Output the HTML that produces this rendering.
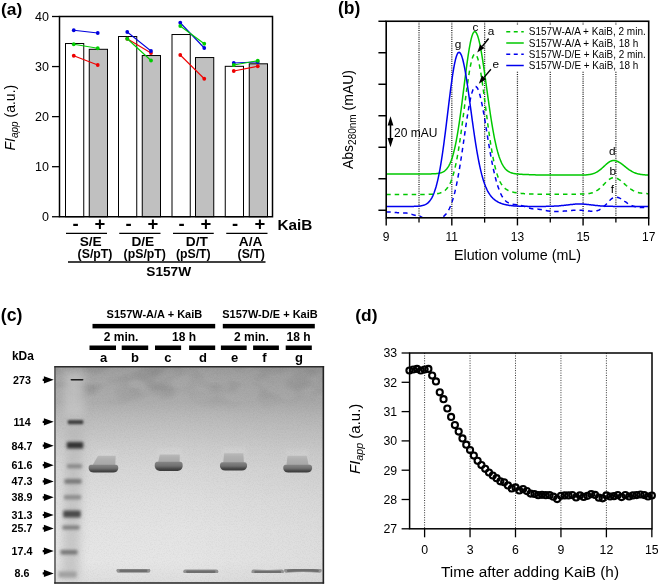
<!DOCTYPE html>
<html><head><meta charset="utf-8"><title>Figure</title>
<style>html,body{margin:0;padding:0;background:#fff}svg{display:block;opacity:0.999}text{font-family:"Liberation Sans",sans-serif;fill:#000}</style>
</head><body>
<svg width="660" height="585" viewBox="0 0 660 585">
<rect width="660" height="585" fill="#fff"/>
<g id="pa">
<rect x="65.50" y="43.53" width="18.25" height="173.22" fill="#fff" stroke="#000" stroke-width="1"/>
<rect x="89.25" y="49.29" width="18.25" height="167.46" fill="#c0c0c0" stroke="#000" stroke-width="1"/>
<rect x="118.50" y="36.53" width="18.25" height="180.22" fill="#fff" stroke="#000" stroke-width="1"/>
<rect x="142.25" y="55.55" width="18.25" height="161.20" fill="#c0c0c0" stroke="#000" stroke-width="1"/>
<rect x="172.00" y="34.52" width="18.25" height="182.23" fill="#fff" stroke="#000" stroke-width="1"/>
<rect x="195.50" y="57.55" width="18.25" height="159.20" fill="#c0c0c0" stroke="#000" stroke-width="1"/>
<rect x="225.25" y="66.31" width="18.25" height="150.44" fill="#fff" stroke="#000" stroke-width="1"/>
<rect x="249.25" y="63.81" width="18.25" height="152.94" fill="#c0c0c0" stroke="#000" stroke-width="1"/>
<rect x="59.5" y="16.5" width="213.0" height="200.25" fill="none" stroke="#000" stroke-width="1.5"/>
<line x1="52.0" y1="216.75" x2="59.5" y2="216.75" stroke="#000" stroke-width="1.3"/>
<text x="49.0" y="221.15" font-size="12.5" text-anchor="end" font-family="Liberation Sans, sans-serif">0</text>
<line x1="52.0" y1="166.69" x2="59.5" y2="166.69" stroke="#000" stroke-width="1.3"/>
<text x="49.0" y="171.09" font-size="12.5" text-anchor="end" font-family="Liberation Sans, sans-serif">10</text>
<line x1="52.0" y1="116.62" x2="59.5" y2="116.62" stroke="#000" stroke-width="1.3"/>
<text x="49.0" y="121.03" font-size="12.5" text-anchor="end" font-family="Liberation Sans, sans-serif">20</text>
<line x1="52.0" y1="66.56" x2="59.5" y2="66.56" stroke="#000" stroke-width="1.3"/>
<text x="49.0" y="70.96" font-size="12.5" text-anchor="end" font-family="Liberation Sans, sans-serif">30</text>
<line x1="52.0" y1="16.50" x2="59.5" y2="16.50" stroke="#000" stroke-width="1.3"/>
<text x="49.0" y="20.90" font-size="12.5" text-anchor="end" font-family="Liberation Sans, sans-serif">40</text>
<line x1="73.75" y1="55.75" x2="97.75" y2="65.0" stroke="#ee0000" stroke-width="1.1"/>
<circle cx="73.75" cy="55.75" r="1.9" fill="#ee0000"/><circle cx="97.75" cy="65.0" r="1.9" fill="#ee0000"/>
<line x1="73.75" y1="30.25" x2="97.75" y2="33.0" stroke="#0000dd" stroke-width="1.1"/>
<circle cx="73.75" cy="30.25" r="1.9" fill="#0000dd"/><circle cx="97.75" cy="33.0" r="1.9" fill="#0000dd"/>
<line x1="73.75" y1="44.25" x2="97.75" y2="48.25" stroke="#00cc00" stroke-width="1.1"/>
<circle cx="73.75" cy="44.25" r="1.9" fill="#00cc00"/><circle cx="97.75" cy="48.25" r="1.9" fill="#00cc00"/>
<line x1="127.25" y1="38.75" x2="151.0" y2="53.0" stroke="#ee0000" stroke-width="1.1"/>
<circle cx="127.25" cy="38.75" r="1.9" fill="#ee0000"/><circle cx="151.0" cy="53.0" r="1.9" fill="#ee0000"/>
<line x1="127.25" y1="32.0" x2="151.0" y2="51.0" stroke="#0000dd" stroke-width="1.1"/>
<circle cx="127.25" cy="32.0" r="1.9" fill="#0000dd"/><circle cx="151.0" cy="51.0" r="1.9" fill="#0000dd"/>
<line x1="127.25" y1="38.75" x2="151.0" y2="60.5" stroke="#00cc00" stroke-width="1.1"/>
<circle cx="127.25" cy="38.75" r="1.9" fill="#00cc00"/><circle cx="151.0" cy="60.5" r="1.9" fill="#00cc00"/>
<line x1="180.25" y1="55.0" x2="204.25" y2="78.75" stroke="#ee0000" stroke-width="1.1"/>
<circle cx="180.25" cy="55.0" r="1.9" fill="#ee0000"/><circle cx="204.25" cy="78.75" r="1.9" fill="#ee0000"/>
<line x1="180.25" y1="22.75" x2="204.25" y2="48.0" stroke="#0000dd" stroke-width="1.1"/>
<circle cx="180.25" cy="22.75" r="1.9" fill="#0000dd"/><circle cx="204.25" cy="48.0" r="1.9" fill="#0000dd"/>
<line x1="180.25" y1="26.0" x2="204.25" y2="43.75" stroke="#00cc00" stroke-width="1.1"/>
<circle cx="180.25" cy="26.0" r="1.9" fill="#00cc00"/><circle cx="204.25" cy="43.75" r="1.9" fill="#00cc00"/>
<line x1="233.75" y1="71.0" x2="257.75" y2="66.25" stroke="#ee0000" stroke-width="1.1"/>
<circle cx="233.75" cy="71.0" r="1.9" fill="#ee0000"/><circle cx="257.75" cy="66.25" r="1.9" fill="#ee0000"/>
<line x1="233.75" y1="63.0" x2="257.75" y2="62.0" stroke="#0000dd" stroke-width="1.1"/>
<circle cx="233.75" cy="63.0" r="1.9" fill="#0000dd"/><circle cx="257.75" cy="62.0" r="1.9" fill="#0000dd"/>
<line x1="233.75" y1="65.0" x2="257.75" y2="60.75" stroke="#00cc00" stroke-width="1.1"/>
<circle cx="233.75" cy="65.0" r="1.9" fill="#00cc00"/><circle cx="257.75" cy="60.75" r="1.9" fill="#00cc00"/>
<text transform="translate(15,150.5) rotate(-90)" font-size="14" font-family="Liberation Sans, sans-serif"><tspan font-style="italic">FI</tspan><tspan font-style="italic" font-size="10" dy="3">app</tspan><tspan dy="-3"> (a.u.)</tspan></text>
<text x="1" y="15.3" font-size="17.4" font-weight="bold" font-family="Liberation Sans, sans-serif">(a)</text>
<text x="75.5" y="230.0" font-size="18.5" font-weight="bold" text-anchor="middle" font-family="Liberation Sans, sans-serif">-</text>
<text x="99.8" y="230.0" font-size="18.5" font-weight="bold" text-anchor="middle" font-family="Liberation Sans, sans-serif">+</text>
<text x="128.5" y="230.0" font-size="18.5" font-weight="bold" text-anchor="middle" font-family="Liberation Sans, sans-serif">-</text>
<text x="152.8" y="230.0" font-size="18.5" font-weight="bold" text-anchor="middle" font-family="Liberation Sans, sans-serif">+</text>
<text x="181.5" y="230.0" font-size="18.5" font-weight="bold" text-anchor="middle" font-family="Liberation Sans, sans-serif">-</text>
<text x="205.8" y="230.0" font-size="18.5" font-weight="bold" text-anchor="middle" font-family="Liberation Sans, sans-serif">+</text>
<text x="235" y="230.0" font-size="18.5" font-weight="bold" text-anchor="middle" font-family="Liberation Sans, sans-serif">-</text>
<text x="259.8" y="230.0" font-size="18.5" font-weight="bold" text-anchor="middle" font-family="Liberation Sans, sans-serif">+</text>
<text x="277.5" y="229.5" font-size="15.3" font-weight="bold" font-family="Liberation Sans, sans-serif">KaiB</text>
<line x1="66" y1="233.3" x2="107" y2="233.3" stroke="#000" stroke-width="1.3"/>
<line x1="119.25" y1="233.3" x2="160.5" y2="233.3" stroke="#000" stroke-width="1.3"/>
<line x1="173" y1="233.3" x2="213.75" y2="233.3" stroke="#000" stroke-width="1.3"/>
<line x1="226.25" y1="233.3" x2="267.5" y2="233.3" stroke="#000" stroke-width="1.3"/>
<text x="90.7" y="245.9" font-size="13.7" font-weight="bold" text-anchor="middle" font-family="Liberation Sans, sans-serif">S/E</text>
<text x="95" y="257.9" font-size="12.3" font-weight="bold" text-anchor="middle" font-family="Liberation Sans, sans-serif">(S/pT)</text>
<text x="142.8" y="245.9" font-size="13.7" font-weight="bold" text-anchor="middle" font-family="Liberation Sans, sans-serif">D/E</text>
<text x="144.75" y="257.9" font-size="12.3" font-weight="bold" text-anchor="middle" font-family="Liberation Sans, sans-serif">(pS/pT)</text>
<text x="196.9" y="245.9" font-size="13.7" font-weight="bold" text-anchor="middle" font-family="Liberation Sans, sans-serif">D/T</text>
<text x="193.3" y="257.9" font-size="12.3" font-weight="bold" text-anchor="middle" font-family="Liberation Sans, sans-serif">(pS/T)</text>
<text x="250.6" y="245.9" font-size="13.7" font-weight="bold" text-anchor="middle" font-family="Liberation Sans, sans-serif">A/A</text>
<text x="251.2" y="257.9" font-size="12.3" font-weight="bold" text-anchor="middle" font-family="Liberation Sans, sans-serif">(S/T)</text>
<line x1="68" y1="262" x2="265.5" y2="262" stroke="#000" stroke-width="1.3"/>
<text x="168.7" y="275.5" font-size="13.7" font-weight="bold" text-anchor="middle" font-family="Liberation Sans, sans-serif">S157W</text>
</g>
<g id="pb">
<line x1="419.01" y1="21.25" x2="419.01" y2="217.8" stroke="#1a1a1a" stroke-width="1.25" stroke-dasharray="1,1.2"/>
<line x1="451.82" y1="21.25" x2="451.82" y2="217.8" stroke="#1a1a1a" stroke-width="1.25" stroke-dasharray="1,1.2"/>
<line x1="484.64" y1="21.25" x2="484.64" y2="217.8" stroke="#1a1a1a" stroke-width="1.25" stroke-dasharray="1,1.2"/>
<line x1="517.45" y1="21.25" x2="517.45" y2="217.8" stroke="#1a1a1a" stroke-width="1.25" stroke-dasharray="1,1.2"/>
<line x1="550.26" y1="21.25" x2="550.26" y2="217.8" stroke="#1a1a1a" stroke-width="1.25" stroke-dasharray="1,1.2"/>
<line x1="583.08" y1="21.25" x2="583.08" y2="217.8" stroke="#1a1a1a" stroke-width="1.25" stroke-dasharray="1,1.2"/>
<line x1="615.89" y1="21.25" x2="615.89" y2="217.8" stroke="#1a1a1a" stroke-width="1.25" stroke-dasharray="1,1.2"/>
<clipPath id="cb"><rect x="386.2" y="21.25" width="262.50000000000006" height="196.55"/></clipPath>
<g clip-path="url(#cb)" fill="none" stroke-width="1.5">
<path d="M386.2,194.5 L386.7,194.5 L387.2,194.5 L387.7,194.5 L388.2,194.5 L388.7,194.5 L389.2,194.5 L389.7,194.5 L390.2,194.5 L390.7,194.5 L391.2,194.5 L391.7,194.5 L392.2,194.5 L392.7,194.5 L393.2,194.5 L393.7,194.5 L394.2,194.5 L394.7,194.5 L395.2,194.5 L395.7,194.5 L396.2,194.5 L396.7,194.5 L397.2,194.5 L397.7,194.5 L398.2,194.5 L398.7,194.5 L399.2,194.5 L399.7,194.5 L400.2,194.5 L400.7,194.5 L401.2,194.5 L401.7,194.5 L402.2,194.5 L402.7,194.5 L403.2,194.5 L403.7,194.5 L404.2,194.5 L404.7,194.5 L405.2,194.5 L405.7,194.5 L406.2,194.5 L406.7,194.5 L407.2,194.5 L407.7,194.5 L408.2,194.5 L408.7,194.5 L409.2,194.5 L409.7,194.5 L410.2,194.5 L410.7,194.5 L411.2,194.5 L411.7,194.5 L412.2,194.5 L412.7,194.5 L413.2,194.5 L413.7,194.5 L414.2,194.5 L414.7,194.5 L415.2,194.5 L415.7,194.5 L416.2,194.5 L416.7,194.5 L417.2,194.5 L417.7,194.5 L418.2,194.5 L418.7,194.5 L419.2,194.5 L419.7,194.5 L420.2,194.5 L420.7,194.5 L421.2,194.5 L421.7,194.5 L422.2,194.5 L422.7,194.5 L423.2,194.4 L423.7,194.4 L424.2,194.4 L424.7,194.4 L425.2,194.4 L425.7,194.4 L426.2,194.4 L426.7,194.4 L427.2,194.4 L427.7,194.4 L428.2,194.4 L428.7,194.3 L429.2,194.3 L429.7,194.3 L430.2,194.3 L430.7,194.3 L431.2,194.2 L431.7,194.2 L432.2,194.2 L432.7,194.2 L433.2,194.1 L433.7,194.1 L434.2,194.0 L434.7,194.0 L435.2,193.9 L435.7,193.9 L436.2,193.8 L436.7,193.7 L437.2,193.7 L437.7,193.6 L438.2,193.5 L438.7,193.4 L439.2,193.3 L439.7,193.1 L440.2,193.0 L440.7,192.8 L441.2,192.6 L441.7,192.4 L442.2,192.2 L442.7,192.0 L443.2,191.7 L443.7,191.4 L444.2,191.0 L444.7,190.7 L445.2,190.3 L445.7,189.8 L446.2,189.3 L446.7,188.7 L447.2,188.1 L447.7,187.5 L448.2,186.7 L448.7,185.9 L449.2,185.1 L449.7,184.1 L450.2,183.1 L450.7,182.0 L451.2,180.7 L451.7,179.4 L452.2,178.0 L452.7,176.5 L453.2,174.8 L453.7,173.1 L454.2,171.2 L454.7,169.2 L455.2,167.1 L455.7,164.8 L456.2,162.5 L456.7,159.9 L457.2,157.3 L457.7,154.5 L458.2,151.6 L458.7,148.6 L459.2,145.4 L459.7,142.2 L460.2,138.8 L460.7,135.3 L461.2,131.7 L461.7,128.1 L462.2,124.3 L462.7,120.5 L463.2,116.7 L463.7,112.8 L464.2,108.9 L464.7,105.0 L465.2,101.1 L465.7,97.3 L466.2,93.5 L466.7,89.7 L467.2,86.1 L467.7,82.6 L468.2,79.2 L468.7,75.9 L469.2,72.8 L469.7,69.9 L470.2,67.2 L470.7,64.7 L471.2,62.4 L471.7,60.4 L472.2,58.6 L472.7,57.1 L473.2,55.9 L473.7,55.0 L474.2,54.4 L474.7,54.1 L475.2,54.0 L475.7,54.3 L476.2,54.9 L476.7,55.7 L477.2,56.9 L477.7,58.3 L478.2,60.0 L478.7,62.0 L479.2,64.2 L479.7,66.7 L480.2,69.4 L480.7,72.2 L481.2,75.3 L481.7,78.5 L482.2,81.9 L482.7,85.4 L483.2,89.0 L483.7,92.7 L484.2,96.5 L484.7,100.3 L485.2,104.2 L485.7,108.0 L486.2,111.9 L486.7,115.7 L487.2,119.5 L487.7,123.3 L488.2,127.0 L488.7,130.6 L489.2,134.2 L489.7,137.6 L490.2,140.9 L490.7,144.2 L491.2,147.3 L491.7,150.2 L492.2,153.1 L492.7,155.8 L493.2,158.4 L493.7,160.9 L494.2,163.2 L494.7,165.4 L495.2,167.5 L495.7,169.5 L496.2,171.3 L496.7,173.0 L497.2,174.6 L497.7,176.1 L498.2,177.5 L498.7,178.8 L499.2,180.0 L499.7,181.0 L500.2,182.1 L500.7,183.0 L501.2,183.9 L501.7,184.6 L502.2,185.4 L502.7,186.0 L503.2,186.6 L503.7,187.2 L504.2,187.7 L504.7,188.2 L505.2,188.6 L505.7,189.0 L506.2,189.3 L506.7,189.6 L507.2,189.9 L507.7,190.2 L508.2,190.5 L508.7,190.7 L509.2,190.9 L509.7,191.1 L510.2,191.3 L510.7,191.5 L511.2,191.6 L511.7,191.8 L512.2,191.9 L512.7,192.0 L513.2,192.1 L513.7,192.3 L514.2,192.4 L514.7,192.5 L515.2,192.6 L515.7,192.7 L516.2,192.7 L516.7,192.8 L517.2,192.9 L517.7,193.0 L518.2,193.0 L518.7,193.1 L519.2,193.2 L519.7,193.2 L520.2,193.3 L520.7,193.3 L521.2,193.4 L521.7,193.5 L522.2,193.5 L522.7,193.5 L523.2,193.6 L523.7,193.6 L524.2,193.7 L524.7,193.7 L525.2,193.7 L525.7,193.8 L526.2,193.8 L526.7,193.8 L527.2,193.9 L527.7,193.9 L528.2,193.9 L528.7,194.0 L529.2,194.0 L529.7,194.0 L530.2,194.0 L530.7,194.0 L531.2,194.1 L531.7,194.1 L532.2,194.1 L532.7,194.1 L533.2,194.1 L533.7,194.1 L534.2,194.2 L534.7,194.2 L535.2,194.2 L535.7,194.2 L536.2,194.2 L536.7,194.2 L537.2,194.2 L537.7,194.2 L538.2,194.2 L538.7,194.3 L539.2,194.3 L539.7,194.3 L540.2,194.3 L540.7,194.3 L541.2,194.3 L541.7,194.3 L542.2,194.3 L542.7,194.3 L543.2,194.3 L543.7,194.3 L544.2,194.3 L544.7,194.3 L545.2,194.3 L545.7,194.3 L546.2,194.3 L546.7,194.3 L547.2,194.3 L547.7,194.3 L548.2,194.3 L548.7,194.3 L549.2,194.3 L549.7,194.3 L550.2,194.3 L550.7,194.3 L551.2,194.3 L551.7,194.3 L552.2,194.3 L552.7,194.3 L553.2,194.3 L553.7,194.3 L554.2,194.3 L554.7,194.3 L555.2,194.3 L555.7,194.3 L556.2,194.3 L556.7,194.3 L557.2,194.3 L557.7,194.3 L558.2,194.3 L558.7,194.3 L559.2,194.3 L559.7,194.3 L560.2,194.3 L560.7,194.3 L561.2,194.3 L561.7,194.3 L562.2,194.3 L562.7,194.3 L563.2,194.3 L563.7,194.3 L564.2,194.3 L564.7,194.3 L565.2,194.3 L565.7,194.3 L566.2,194.2 L566.7,194.2 L567.2,194.2 L567.7,194.2 L568.2,194.2 L568.7,194.2 L569.2,194.2 L569.7,194.2 L570.2,194.2 L570.7,194.2 L571.2,194.2 L571.7,194.2 L572.2,194.2 L572.7,194.2 L573.2,194.2 L573.7,194.2 L574.2,194.2 L574.7,194.2 L575.2,194.2 L575.7,194.2 L576.2,194.2 L576.7,194.2 L577.2,194.2 L577.7,194.2 L578.2,194.2 L578.7,194.2 L579.2,194.2 L579.7,194.2 L580.2,194.1 L580.7,194.1 L581.2,194.1 L581.7,194.1 L582.2,194.1 L582.7,194.1 L583.2,194.1 L583.7,194.0 L584.2,194.0 L584.7,194.0 L585.2,194.0 L585.7,193.9 L586.2,193.9 L586.7,193.8 L587.2,193.8 L587.7,193.7 L588.2,193.7 L588.7,193.6 L589.2,193.5 L589.7,193.4 L590.2,193.3 L590.7,193.2 L591.2,193.1 L591.7,193.0 L592.2,192.8 L592.7,192.7 L593.2,192.5 L593.7,192.3 L594.2,192.1 L594.7,191.8 L595.2,191.6 L595.7,191.3 L596.2,191.0 L596.7,190.7 L597.2,190.4 L597.7,190.1 L598.2,189.7 L598.7,189.3 L599.2,188.9 L599.7,188.5 L600.2,188.0 L600.7,187.6 L601.2,187.1 L601.7,186.6 L602.2,186.1 L602.7,185.6 L603.2,185.1 L603.7,184.6 L604.2,184.1 L604.7,183.5 L605.2,183.0 L605.7,182.5 L606.2,182.0 L606.7,181.5 L607.2,181.0 L607.7,180.6 L608.2,180.2 L608.7,179.8 L609.2,179.4 L609.7,179.0 L610.2,178.7 L610.7,178.5 L611.2,178.2 L611.7,178.0 L612.2,177.9 L612.7,177.8 L613.2,177.7 L613.7,177.7 L614.2,177.7 L614.7,177.8 L615.2,177.9 L615.7,178.0 L616.2,178.1 L616.7,178.3 L617.2,178.5 L617.7,178.8 L618.2,179.0 L618.7,179.3 L619.2,179.6 L619.7,180.0 L620.2,180.3 L620.7,180.7 L621.2,181.1 L621.7,181.5 L622.2,181.9 L622.7,182.4 L623.2,182.8 L623.7,183.2 L624.2,183.7 L624.7,184.1 L625.2,184.6 L625.7,185.0 L626.2,185.5 L626.7,185.9 L627.2,186.3 L627.7,186.8 L628.2,187.2 L628.7,187.6 L629.2,187.9 L629.7,188.3 L630.2,188.7 L630.7,189.0 L631.2,189.4 L631.7,189.7 L632.2,190.0 L632.7,190.3 L633.2,190.6 L633.7,190.8 L634.2,191.1 L634.7,191.3 L635.2,191.5 L635.7,191.7 L636.2,191.9 L636.7,192.1 L637.2,192.2 L637.7,192.4 L638.2,192.5 L638.7,192.7 L639.2,192.8 L639.7,192.9 L640.2,193.0 L640.7,193.1 L641.2,193.1 L641.7,193.2 L642.2,193.3 L642.7,193.3 L643.2,193.4 L643.7,193.4 L644.2,193.5 L644.7,193.5 L645.2,193.6 L645.7,193.6 L646.2,193.6 L646.7,193.6 L647.2,193.7 L647.7,193.7 L648.2,193.7 L648.7,193.7" stroke="#00c800" stroke-dasharray="4.5,4"/>
<path d="M386.2,212.0 L386.7,212.0 L387.2,212.0 L387.7,212.0 L388.2,212.0 L388.7,212.1 L389.2,212.1 L389.7,212.1 L390.2,212.1 L390.7,212.2 L391.2,212.2 L391.7,212.2 L392.2,212.3 L392.7,212.3 L393.2,212.3 L393.7,212.4 L394.2,212.4 L394.7,212.5 L395.2,212.5 L395.7,212.5 L396.2,212.6 L396.7,212.6 L397.2,212.7 L397.7,212.7 L398.2,212.7 L398.7,212.8 L399.2,212.8 L399.7,212.8 L400.2,212.9 L400.7,212.9 L401.2,212.9 L401.7,212.9 L402.2,212.9 L402.7,213.0 L403.2,213.0 L403.7,213.0 L404.2,213.0 L404.7,213.0 L405.2,213.0 L405.7,213.0 L406.2,213.0 L406.7,213.1 L407.2,213.2 L407.7,213.3 L408.2,213.4 L408.7,213.5 L409.2,213.6 L409.7,213.7 L410.2,213.9 L410.7,214.0 L411.2,214.2 L411.7,214.3 L412.2,214.5 L412.7,214.6 L413.2,214.8 L413.7,214.9 L414.2,215.1 L414.7,215.2 L415.2,215.3 L415.7,215.4 L416.2,215.4 L416.7,215.5 L417.2,215.5 L417.7,215.5 L418.2,215.5 L418.7,215.6 L419.2,215.8 L419.7,216.0 L420.2,216.3 L420.7,216.6 L421.2,216.9 L421.7,217.2 L422.2,217.5 L422.7,217.7 L423.2,217.8 L423.7,217.8 L424.2,217.8 L424.7,217.9 L425.2,218.0 L425.7,218.2 L426.2,218.4 L426.7,218.7 L427.2,218.9 L427.7,219.2 L428.2,219.5 L428.7,219.8 L429.2,220.0 L429.7,220.2 L430.2,220.4 L430.7,220.5 L431.2,220.5 L431.7,220.5 L432.2,220.5 L432.7,220.4 L433.2,220.3 L433.7,220.2 L434.2,220.1 L434.7,220.0 L435.2,220.0 L435.7,219.8 L436.2,219.7 L436.7,219.6 L437.2,219.5 L437.7,219.4 L438.2,219.2 L438.7,219.0 L439.2,218.9 L439.7,218.7 L440.2,218.5 L440.7,218.2 L441.2,218.0 L441.7,217.7 L442.2,217.4 L442.7,217.1 L443.2,216.7 L443.7,216.3 L444.2,215.9 L444.7,215.4 L445.2,214.9 L445.7,214.4 L446.2,213.8 L446.7,213.1 L447.2,212.4 L447.7,211.7 L448.2,210.8 L448.7,209.9 L449.2,209.0 L449.7,207.9 L450.2,206.8 L450.7,205.6 L451.2,204.3 L451.7,202.9 L452.2,201.5 L452.7,199.9 L453.2,198.2 L453.7,196.5 L454.2,194.6 L454.7,192.7 L455.2,190.6 L455.7,188.5 L456.2,186.2 L456.7,183.8 L457.2,181.3 L457.7,178.7 L458.2,176.0 L458.7,173.3 L459.2,170.4 L459.7,167.4 L460.2,164.3 L460.7,161.2 L461.2,157.9 L461.7,154.7 L462.2,151.3 L462.7,147.9 L463.2,144.5 L463.7,141.0 L464.2,137.6 L464.7,134.1 L465.2,130.6 L465.7,127.2 L466.2,123.8 L466.7,120.5 L467.2,117.2 L467.7,114.1 L468.2,111.0 L468.7,108.1 L469.2,105.2 L469.7,102.6 L470.2,100.1 L470.7,97.7 L471.2,95.6 L471.7,93.7 L472.2,91.9 L472.7,90.4 L473.2,89.2 L473.7,88.1 L474.2,87.4 L474.7,86.8 L475.2,86.5 L475.7,86.5 L476.2,86.7 L476.7,87.2 L477.2,87.8 L477.7,88.7 L478.2,89.8 L478.7,91.1 L479.2,92.6 L479.7,94.3 L480.2,96.1 L480.7,98.2 L481.2,100.4 L481.7,102.8 L482.2,105.2 L482.7,107.9 L483.2,110.6 L483.7,113.4 L484.2,116.3 L484.7,119.2 L485.2,122.2 L485.7,125.3 L486.2,128.4 L486.7,131.5 L487.2,134.6 L487.7,137.6 L488.2,140.7 L488.7,143.7 L489.2,146.7 L489.7,149.6 L490.2,152.5 L490.7,155.3 L491.2,158.0 L491.7,160.7 L492.2,163.3 L492.7,165.8 L493.2,168.2 L493.7,170.5 L494.2,172.7 L494.7,174.8 L495.2,176.9 L495.7,178.8 L496.2,180.7 L496.7,182.4 L497.2,184.1 L497.7,185.7 L498.2,187.2 L498.7,188.6 L499.2,190.0 L499.7,191.3 L500.2,192.5 L500.7,193.6 L501.2,194.6 L501.7,195.6 L502.2,196.5 L502.7,197.3 L503.2,198.1 L503.7,198.8 L504.2,199.4 L504.7,200.0 L505.2,200.5 L505.7,201.0 L506.2,201.4 L506.7,201.8 L507.2,202.1 L507.7,202.4 L508.2,202.7 L508.7,203.0 L509.2,203.2 L509.7,203.4 L510.2,203.6 L510.7,203.7 L511.2,203.9 L511.7,204.0 L512.2,204.1 L512.7,204.2 L513.2,204.3 L513.7,204.4 L514.2,204.5 L514.7,204.6 L515.2,204.6 L515.7,204.7 L516.2,204.8 L516.7,204.8 L517.2,204.9 L517.7,204.9 L518.2,205.0 L518.7,205.1 L519.2,205.1 L519.7,205.2 L520.2,205.3 L520.7,205.4 L521.2,205.5 L521.7,205.7 L522.2,205.8 L522.7,205.9 L523.2,206.1 L523.7,206.2 L524.2,206.4 L524.7,206.6 L525.2,206.7 L525.7,206.9 L526.2,207.1 L526.7,207.2 L527.2,207.4 L527.7,207.6 L528.2,207.7 L528.7,207.9 L529.2,208.0 L529.7,208.2 L530.2,208.3 L530.7,208.4 L531.2,208.6 L531.7,208.7 L532.2,208.7 L532.7,208.8 L533.2,208.9 L533.7,208.9 L534.2,209.0 L534.7,209.0 L535.2,209.0 L535.7,209.0 L536.2,209.0 L536.7,209.0 L537.2,209.1 L537.7,209.1 L538.2,209.2 L538.7,209.2 L539.2,209.3 L539.7,209.4 L540.2,209.4 L540.7,209.5 L541.2,209.6 L541.7,209.7 L542.2,209.8 L542.7,209.9 L543.2,210.0 L543.7,210.1 L544.2,210.2 L544.7,210.3 L545.2,210.4 L545.7,210.5 L546.2,210.6 L546.7,210.7 L547.2,210.8 L547.7,210.9 L548.2,211.0 L548.7,211.1 L549.2,211.1 L549.7,211.2 L550.2,211.3 L550.7,211.3 L551.2,211.4 L551.7,211.4 L552.2,211.4 L552.7,211.5 L553.2,211.5 L553.7,211.5 L554.2,211.5 L554.7,211.5 L555.2,211.5 L555.7,211.4 L556.2,211.4 L556.7,211.4 L557.2,211.4 L557.7,211.4 L558.2,211.4 L558.7,211.4 L559.2,211.4 L559.7,211.3 L560.2,211.3 L560.7,211.3 L561.2,211.3 L561.7,211.2 L562.2,211.2 L562.7,211.2 L563.2,211.2 L563.7,211.1 L564.2,211.1 L564.7,211.0 L565.2,211.0 L565.7,211.0 L566.2,210.9 L566.7,210.9 L567.2,210.8 L567.7,210.8 L568.2,210.7 L568.7,210.7 L569.2,210.6 L569.7,210.6 L570.2,210.5 L570.7,210.5 L571.2,210.5 L571.7,210.4 L572.2,210.4 L572.7,210.3 L573.2,210.3 L573.7,210.3 L574.2,210.2 L574.7,210.2 L575.2,210.2 L575.7,210.2 L576.2,210.1 L576.7,210.1 L577.2,210.1 L577.7,210.1 L578.2,210.1 L578.7,210.1 L579.2,210.2 L579.7,210.2 L580.2,210.2 L580.7,210.2 L581.2,210.3 L581.7,210.3 L582.2,210.3 L582.7,210.4 L583.2,210.4 L583.7,210.5 L584.2,210.5 L584.7,210.6 L585.2,210.6 L585.7,210.7 L586.2,210.8 L586.7,210.8 L587.2,210.9 L587.7,210.9 L588.2,211.0 L588.7,211.0 L589.2,211.1 L589.7,211.1 L590.2,211.2 L590.7,211.2 L591.2,211.2 L591.7,211.2 L592.2,211.2 L592.7,211.2 L593.2,211.2 L593.7,211.2 L594.2,211.2 L594.7,211.1 L595.2,211.1 L595.7,211.0 L596.2,210.9 L596.7,210.8 L597.2,210.7 L597.7,210.5 L598.2,210.4 L598.7,210.2 L599.2,210.0 L599.7,209.7 L600.2,209.4 L600.7,209.2 L601.2,208.8 L601.7,208.5 L602.2,208.1 L602.7,207.7 L603.2,207.3 L603.7,206.8 L604.2,206.3 L604.7,205.8 L605.2,205.3 L605.7,204.8 L606.2,204.3 L606.7,203.7 L607.2,203.1 L607.7,202.6 L608.2,202.0 L608.7,201.5 L609.2,201.0 L609.7,200.4 L610.2,200.0 L610.7,199.5 L611.2,199.1 L611.7,198.7 L612.2,198.3 L612.7,198.0 L613.2,197.8 L613.7,197.5 L614.2,197.4 L614.7,197.3 L615.2,197.2 L615.7,197.2 L616.2,197.2 L616.7,197.2 L617.2,197.3 L617.7,197.4 L618.2,197.5 L618.7,197.7 L619.2,197.9 L619.7,198.1 L620.2,198.4 L620.7,198.6 L621.2,198.9 L621.7,199.2 L622.2,199.5 L622.7,199.9 L623.2,200.2 L623.7,200.6 L624.2,200.9 L624.7,201.3 L625.2,201.6 L625.7,202.0 L626.2,202.3 L626.7,202.7 L627.2,203.0 L627.7,203.4 L628.2,203.7 L628.7,204.0 L629.2,204.3 L629.7,204.6 L630.2,204.9 L630.7,205.1 L631.2,205.4 L631.7,205.6 L632.2,205.8 L632.7,206.0 L633.2,206.2 L633.7,206.3 L634.2,206.5 L634.7,206.6 L635.2,206.7 L635.7,206.9 L636.2,207.0 L636.7,207.1 L637.2,207.1 L637.7,207.2 L638.2,207.3 L638.7,207.3 L639.2,207.4 L639.7,207.4 L640.2,207.5 L640.7,207.5 L641.2,207.5 L641.7,207.6 L642.2,207.6 L642.7,207.6 L643.2,207.6 L643.7,207.6 L644.2,207.6 L644.7,207.7 L645.2,207.7 L645.7,207.7 L646.2,207.7 L646.7,207.7 L647.2,207.7 L647.7,207.7 L648.2,207.7 L648.7,207.7" stroke="#0000ee" stroke-dasharray="4.5,4"/>
<path d="M386.2,173.9 L386.7,173.9 L387.2,173.9 L387.7,173.9 L388.2,173.9 L388.7,173.9 L389.2,173.9 L389.7,173.9 L390.2,173.9 L390.7,173.9 L391.2,173.9 L391.7,173.9 L392.2,173.9 L392.7,173.9 L393.2,173.9 L393.7,173.9 L394.2,173.9 L394.7,173.9 L395.2,173.9 L395.7,173.9 L396.2,173.9 L396.7,173.9 L397.2,173.9 L397.7,173.9 L398.2,173.9 L398.7,173.9 L399.2,173.9 L399.7,173.9 L400.2,173.9 L400.7,173.9 L401.2,173.9 L401.7,173.9 L402.2,173.9 L402.7,173.9 L403.2,173.9 L403.7,173.9 L404.2,173.9 L404.7,173.9 L405.2,173.9 L405.7,173.9 L406.2,173.9 L406.7,173.9 L407.2,173.9 L407.7,173.9 L408.2,173.9 L408.7,173.9 L409.2,173.9 L409.7,173.9 L410.2,173.9 L410.7,173.9 L411.2,173.9 L411.7,173.9 L412.2,173.9 L412.7,173.9 L413.2,173.9 L413.7,173.9 L414.2,173.9 L414.7,173.9 L415.2,173.9 L415.7,173.9 L416.2,173.9 L416.7,173.9 L417.2,173.9 L417.7,173.9 L418.2,173.9 L418.7,173.9 L419.2,173.9 L419.7,173.9 L420.2,173.9 L420.7,173.9 L421.2,173.9 L421.7,173.9 L422.2,173.9 L422.7,173.9 L423.2,173.9 L423.7,173.9 L424.2,173.9 L424.7,173.9 L425.2,173.9 L425.7,173.9 L426.2,173.9 L426.7,173.9 L427.2,173.9 L427.7,173.9 L428.2,173.9 L428.7,173.9 L429.2,173.9 L429.7,173.9 L430.2,173.9 L430.7,173.9 L431.2,173.9 L431.7,173.8 L432.2,173.8 L432.7,173.8 L433.2,173.8 L433.7,173.8 L434.2,173.8 L434.7,173.8 L435.2,173.7 L435.7,173.7 L436.2,173.7 L436.7,173.6 L437.2,173.6 L437.7,173.5 L438.2,173.4 L438.7,173.3 L439.2,173.3 L439.7,173.2 L440.2,173.0 L440.7,172.9 L441.2,172.7 L441.7,172.6 L442.2,172.4 L442.7,172.1 L443.2,171.9 L443.7,171.6 L444.2,171.3 L444.7,170.9 L445.2,170.5 L445.7,170.0 L446.2,169.5 L446.7,169.0 L447.2,168.3 L447.7,167.6 L448.2,166.9 L448.7,166.1 L449.2,165.1 L449.7,164.1 L450.2,163.0 L450.7,161.9 L451.2,160.6 L451.7,159.2 L452.2,157.7 L452.7,156.0 L453.2,154.3 L453.7,152.4 L454.2,150.4 L454.7,148.3 L455.2,146.0 L455.7,143.6 L456.2,141.1 L456.7,138.4 L457.2,135.6 L457.7,132.7 L458.2,129.6 L458.7,126.4 L459.2,123.1 L459.7,119.7 L460.2,116.1 L460.7,112.5 L461.2,108.8 L461.7,104.9 L462.2,101.1 L462.7,97.1 L463.2,93.2 L463.7,89.2 L464.2,85.2 L464.7,81.2 L465.2,77.3 L465.7,73.3 L466.2,69.5 L466.7,65.7 L467.2,62.1 L467.7,58.6 L468.2,55.2 L468.7,52.0 L469.2,48.9 L469.7,46.1 L470.2,43.4 L470.7,41.0 L471.2,38.9 L471.7,37.0 L472.2,35.4 L472.7,34.0 L473.2,33.0 L473.7,32.2 L474.2,31.8 L474.7,31.6 L475.2,31.7 L475.7,32.1 L476.2,32.7 L476.7,33.6 L477.2,34.7 L477.7,36.1 L478.2,37.6 L478.7,39.4 L479.2,41.4 L479.7,43.6 L480.2,46.0 L480.7,48.6 L481.2,51.3 L481.7,54.2 L482.2,57.2 L482.7,60.4 L483.2,63.6 L483.7,67.0 L484.2,70.4 L484.7,73.9 L485.2,77.5 L485.7,81.1 L486.2,84.7 L486.7,88.3 L487.2,91.9 L487.7,95.6 L488.2,99.1 L488.7,102.7 L489.2,106.2 L489.7,109.6 L490.2,113.0 L490.7,116.3 L491.2,119.5 L491.7,122.6 L492.2,125.7 L492.7,128.6 L493.2,131.4 L493.7,134.1 L494.2,136.8 L494.7,139.3 L495.2,141.7 L495.7,143.9 L496.2,146.1 L496.7,148.2 L497.2,150.1 L497.7,152.0 L498.2,153.7 L498.7,155.3 L499.2,156.9 L499.7,158.3 L500.2,159.6 L500.7,160.9 L501.2,162.0 L501.7,163.1 L502.2,164.1 L502.7,165.0 L503.2,165.9 L503.7,166.7 L504.2,167.4 L504.7,168.1 L505.2,168.7 L505.7,169.2 L506.2,169.7 L506.7,170.2 L507.2,170.6 L507.7,171.0 L508.2,171.3 L508.7,171.6 L509.2,171.9 L509.7,172.2 L510.2,172.4 L510.7,172.6 L511.2,172.8 L511.7,173.0 L512.2,173.1 L512.7,173.2 L513.2,173.4 L513.7,173.5 L514.2,173.6 L514.7,173.7 L515.2,173.7 L515.7,173.8 L516.2,173.9 L516.7,173.9 L517.2,174.0 L517.7,174.0 L518.2,174.1 L518.7,174.1 L519.2,174.2 L519.7,174.2 L520.2,174.2 L520.7,174.3 L521.2,174.3 L521.7,174.3 L522.2,174.3 L522.7,174.4 L523.2,174.4 L523.7,174.4 L524.2,174.4 L524.7,174.5 L525.2,174.5 L525.7,174.5 L526.2,174.5 L526.7,174.6 L527.2,174.6 L527.7,174.6 L528.2,174.6 L528.7,174.6 L529.2,174.7 L529.7,174.7 L530.2,174.7 L530.7,174.7 L531.2,174.7 L531.7,174.7 L532.2,174.8 L532.7,174.8 L533.2,174.8 L533.7,174.8 L534.2,174.8 L534.7,174.8 L535.2,174.8 L535.7,174.9 L536.2,174.9 L536.7,174.9 L537.2,174.9 L537.7,174.9 L538.2,174.9 L538.7,174.9 L539.2,174.9 L539.7,174.9 L540.2,174.9 L540.7,175.0 L541.2,175.0 L541.7,175.0 L542.2,175.0 L542.7,175.0 L543.2,175.0 L543.7,175.0 L544.2,175.0 L544.7,175.0 L545.2,175.0 L545.7,175.0 L546.2,175.0 L546.7,175.0 L547.2,175.0 L547.7,175.0 L548.2,175.0 L548.7,175.0 L549.2,175.0 L549.7,175.0 L550.2,175.1 L550.7,175.1 L551.2,175.1 L551.7,175.1 L552.2,175.1 L552.7,175.1 L553.2,175.1 L553.7,175.1 L554.2,175.1 L554.7,175.1 L555.2,175.1 L555.7,175.1 L556.2,175.1 L556.7,175.1 L557.2,175.1 L557.7,175.1 L558.2,175.1 L558.7,175.1 L559.2,175.1 L559.7,175.1 L560.2,175.1 L560.7,175.1 L561.2,175.1 L561.7,175.1 L562.2,175.1 L562.7,175.1 L563.2,175.1 L563.7,175.1 L564.2,175.1 L564.7,175.1 L565.2,175.1 L565.7,175.1 L566.2,175.1 L566.7,175.1 L567.2,175.1 L567.7,175.1 L568.2,175.1 L568.7,175.1 L569.2,175.1 L569.7,175.1 L570.2,175.1 L570.7,175.1 L571.2,175.1 L571.7,175.1 L572.2,175.1 L572.7,175.1 L573.2,175.1 L573.7,175.1 L574.2,175.1 L574.7,175.1 L575.2,175.1 L575.7,175.1 L576.2,175.1 L576.7,175.1 L577.2,175.1 L577.7,175.1 L578.2,175.1 L578.7,175.1 L579.2,175.1 L579.7,175.1 L580.2,175.1 L580.7,175.1 L581.2,175.1 L581.7,175.0 L582.2,175.0 L582.7,175.0 L583.2,175.0 L583.7,175.0 L584.2,175.0 L584.7,175.0 L585.2,174.9 L585.7,174.9 L586.2,174.9 L586.7,174.8 L587.2,174.8 L587.7,174.7 L588.2,174.7 L588.7,174.6 L589.2,174.6 L589.7,174.5 L590.2,174.4 L590.7,174.3 L591.2,174.2 L591.7,174.1 L592.2,173.9 L592.7,173.8 L593.2,173.6 L593.7,173.5 L594.2,173.3 L594.7,173.1 L595.2,172.9 L595.7,172.6 L596.2,172.4 L596.7,172.1 L597.2,171.8 L597.7,171.5 L598.2,171.2 L598.7,170.8 L599.2,170.5 L599.7,170.1 L600.2,169.7 L600.7,169.3 L601.2,168.9 L601.7,168.4 L602.2,168.0 L602.7,167.5 L603.2,167.1 L603.7,166.6 L604.2,166.2 L604.7,165.7 L605.2,165.2 L605.7,164.8 L606.2,164.3 L606.7,163.9 L607.2,163.5 L607.7,163.1 L608.2,162.7 L608.7,162.3 L609.2,162.0 L609.7,161.7 L610.2,161.4 L610.7,161.2 L611.2,161.0 L611.7,160.8 L612.2,160.7 L612.7,160.6 L613.2,160.5 L613.7,160.5 L614.2,160.5 L614.7,160.6 L615.2,160.7 L615.7,160.8 L616.2,160.9 L616.7,161.1 L617.2,161.3 L617.7,161.5 L618.2,161.7 L618.7,162.0 L619.2,162.3 L619.7,162.6 L620.2,162.9 L620.7,163.2 L621.2,163.6 L621.7,164.0 L622.2,164.3 L622.7,164.7 L623.2,165.1 L623.7,165.5 L624.2,165.9 L624.7,166.3 L625.2,166.7 L625.7,167.1 L626.2,167.5 L626.7,167.9 L627.2,168.3 L627.7,168.7 L628.2,169.0 L628.7,169.4 L629.2,169.8 L629.7,170.1 L630.2,170.4 L630.7,170.7 L631.2,171.0 L631.7,171.3 L632.2,171.6 L632.7,171.9 L633.2,172.1 L633.7,172.4 L634.2,172.6 L634.7,172.8 L635.2,173.0 L635.7,173.2 L636.2,173.3 L636.7,173.5 L637.2,173.6 L637.7,173.8 L638.2,173.9 L638.7,174.0 L639.2,174.1 L639.7,174.2 L640.2,174.3 L640.7,174.4 L641.2,174.5 L641.7,174.5 L642.2,174.6 L642.7,174.7 L643.2,174.7 L643.7,174.8 L644.2,174.8 L644.7,174.8 L645.2,174.9 L645.7,174.9 L646.2,174.9 L646.7,174.9 L647.2,175.0 L647.7,175.0 L648.2,175.0 L648.7,175.0" stroke="#00c800"/>
<path d="M386.2,206.4 L386.7,206.4 L387.2,206.4 L387.7,206.4 L388.2,206.4 L388.7,206.4 L389.2,206.4 L389.7,206.4 L390.2,206.4 L390.7,206.4 L391.2,206.4 L391.7,206.4 L392.2,206.4 L392.7,206.4 L393.2,206.4 L393.7,206.4 L394.2,206.4 L394.7,206.4 L395.2,206.4 L395.7,206.4 L396.2,206.4 L396.7,206.4 L397.2,206.4 L397.7,206.4 L398.2,206.4 L398.7,206.4 L399.2,206.4 L399.7,206.4 L400.2,206.4 L400.7,206.4 L401.2,206.4 L401.7,206.4 L402.2,206.4 L402.7,206.4 L403.2,206.4 L403.7,206.4 L404.2,206.4 L404.7,206.4 L405.2,206.4 L405.7,206.4 L406.2,206.4 L406.7,206.4 L407.2,206.4 L407.7,206.4 L408.2,206.4 L408.7,206.4 L409.2,206.4 L409.7,206.4 L410.2,206.4 L410.7,206.4 L411.2,206.4 L411.7,206.4 L412.2,206.4 L412.7,206.4 L413.2,206.4 L413.7,206.4 L414.2,206.3 L414.7,206.3 L415.2,206.3 L415.7,206.3 L416.2,206.3 L416.7,206.3 L417.2,206.2 L417.7,206.2 L418.2,206.2 L418.7,206.1 L419.2,206.1 L419.7,206.0 L420.2,206.0 L420.7,205.9 L421.2,205.8 L421.7,205.7 L422.2,205.6 L422.7,205.5 L423.2,205.4 L423.7,205.2 L424.2,205.1 L424.7,204.9 L425.2,204.6 L425.7,204.4 L426.2,204.1 L426.7,203.8 L427.2,203.5 L427.7,203.1 L428.2,202.6 L428.7,202.2 L429.2,201.6 L429.7,201.1 L430.2,200.4 L430.7,199.7 L431.2,198.9 L431.7,198.1 L432.2,197.1 L432.7,196.1 L433.2,195.0 L433.7,193.8 L434.2,192.5 L434.7,191.1 L435.2,189.6 L435.7,188.0 L436.2,186.3 L436.7,184.4 L437.2,182.4 L437.7,180.3 L438.2,178.1 L438.7,175.7 L439.2,173.2 L439.7,170.6 L440.2,167.8 L440.7,164.9 L441.2,161.8 L441.7,158.7 L442.2,155.4 L442.7,152.0 L443.2,148.4 L443.7,144.8 L444.2,141.0 L444.7,137.2 L445.2,133.3 L445.7,129.3 L446.2,125.3 L446.7,121.2 L447.2,117.1 L447.7,112.9 L448.2,108.8 L448.7,104.7 L449.2,100.6 L449.7,96.6 L450.2,92.6 L450.7,88.7 L451.2,85.0 L451.7,81.3 L452.2,77.8 L452.7,74.5 L453.2,71.3 L453.7,68.4 L454.2,65.6 L454.7,63.1 L455.2,60.8 L455.7,58.7 L456.2,57.0 L456.7,55.5 L457.2,54.2 L457.7,53.3 L458.2,52.7 L458.7,52.4 L459.2,52.3 L459.7,52.6 L460.2,53.1 L460.7,53.8 L461.2,54.8 L461.7,56.1 L462.2,57.6 L462.7,59.3 L463.2,61.3 L463.7,63.5 L464.2,65.8 L464.7,68.4 L465.2,71.1 L465.7,74.0 L466.2,77.1 L466.7,80.3 L467.2,83.6 L467.7,87.0 L468.2,90.5 L468.7,94.0 L469.2,97.7 L469.7,101.3 L470.2,105.0 L470.7,108.7 L471.2,112.4 L471.7,116.1 L472.2,119.8 L472.7,123.4 L473.2,127.0 L473.7,130.5 L474.2,133.9 L474.7,137.3 L475.2,140.6 L475.7,143.8 L476.2,146.9 L476.7,150.0 L477.2,152.9 L477.7,155.7 L478.2,158.4 L478.7,161.0 L479.2,163.5 L479.7,165.9 L480.2,168.2 L480.7,170.3 L481.2,172.4 L481.7,174.4 L482.2,176.2 L482.7,178.0 L483.2,179.7 L483.7,181.3 L484.2,182.8 L484.7,184.2 L485.2,185.5 L485.7,186.8 L486.2,187.9 L486.7,189.0 L487.2,190.1 L487.7,191.1 L488.2,192.0 L488.7,192.8 L489.2,193.6 L489.7,194.4 L490.2,195.1 L490.7,195.8 L491.2,196.4 L491.7,197.0 L492.2,197.5 L492.7,198.1 L493.2,198.6 L493.7,199.0 L494.2,199.4 L494.7,199.9 L495.2,200.2 L495.7,200.6 L496.2,200.9 L496.7,201.2 L497.2,201.5 L497.7,201.8 L498.2,202.1 L498.7,202.4 L499.2,202.6 L499.7,202.8 L500.2,203.0 L500.7,203.2 L501.2,203.4 L501.7,203.6 L502.2,203.8 L502.7,203.9 L503.2,204.1 L503.7,204.2 L504.2,204.4 L504.7,204.5 L505.2,204.6 L505.7,204.7 L506.2,204.8 L506.7,204.9 L507.2,205.0 L507.7,205.1 L508.2,205.2 L508.7,205.3 L509.2,205.4 L509.7,205.4 L510.2,205.5 L510.7,205.6 L511.2,205.6 L511.7,205.7 L512.2,205.7 L512.7,205.8 L513.2,205.8 L513.7,205.9 L514.2,205.9 L514.7,205.9 L515.2,206.0 L515.7,206.0 L516.2,206.0 L516.7,206.1 L517.2,206.1 L517.7,206.1 L518.2,206.1 L518.7,206.2 L519.2,206.2 L519.7,206.2 L520.2,206.2 L520.7,206.2 L521.2,206.2 L521.7,206.3 L522.2,206.3 L522.7,206.3 L523.2,206.3 L523.7,206.3 L524.2,206.3 L524.7,206.3 L525.2,206.3 L525.7,206.3 L526.2,206.3 L526.7,206.3 L527.2,206.3 L527.7,206.4 L528.2,206.4 L528.7,206.4 L529.2,206.4 L529.7,206.4 L530.2,206.4 L530.7,206.4 L531.2,206.4 L531.7,206.4 L532.2,206.4 L532.7,206.4 L533.2,206.4 L533.7,206.4 L534.2,206.4 L534.7,206.4 L535.2,206.4 L535.7,206.4 L536.2,206.4 L536.7,206.4 L537.2,206.4 L537.7,206.4 L538.2,206.4 L538.7,206.4 L539.2,206.4 L539.7,206.4 L540.2,206.4 L540.7,206.4 L541.2,206.4 L541.7,206.4 L542.2,206.4 L542.7,206.4 L543.2,206.4 L543.7,206.4 L544.2,206.4 L544.7,206.4 L545.2,206.4 L545.7,206.4 L546.2,206.3 L546.7,206.3 L547.2,206.3 L547.7,206.3 L548.2,206.3 L548.7,206.3 L549.2,206.3 L549.7,206.3 L550.2,206.3 L550.7,206.3 L551.2,206.3 L551.7,206.2 L552.2,206.2 L552.7,206.2 L553.2,206.2 L553.7,206.2 L554.2,206.1 L554.7,206.1 L555.2,206.1 L555.7,206.1 L556.2,206.0 L556.7,206.0 L557.2,206.0 L557.7,205.9 L558.2,205.9 L558.7,205.9 L559.2,205.8 L559.7,205.8 L560.2,205.7 L560.7,205.7 L561.2,205.6 L561.7,205.6 L562.2,205.6 L562.7,205.5 L563.2,205.4 L563.7,205.4 L564.2,205.3 L564.7,205.3 L565.2,205.2 L565.7,205.2 L566.2,205.1 L566.7,205.0 L567.2,205.0 L567.7,204.9 L568.2,204.9 L568.7,204.8 L569.2,204.7 L569.7,204.7 L570.2,204.6 L570.7,204.6 L571.2,204.5 L571.7,204.5 L572.2,204.4 L572.7,204.4 L573.2,204.3 L573.7,204.3 L574.2,204.2 L574.7,204.2 L575.2,204.1 L575.7,204.1 L576.2,204.1 L576.7,204.1 L577.2,204.0 L577.7,204.0 L578.2,204.0 L578.7,204.0 L579.2,204.0 L579.7,204.0 L580.2,204.0 L580.7,204.0 L581.2,204.0 L581.7,204.0 L582.2,204.1 L582.7,204.1 L583.2,204.1 L583.7,204.1 L584.2,204.2 L584.7,204.2 L585.2,204.3 L585.7,204.3 L586.2,204.3 L586.7,204.4 L587.2,204.4 L587.7,204.5 L588.2,204.6 L588.7,204.6 L589.2,204.7 L589.7,204.7 L590.2,204.8 L590.7,204.8 L591.2,204.9 L591.7,205.0 L592.2,205.0 L592.7,205.1 L593.2,205.1 L593.7,205.2 L594.2,205.3 L594.7,205.3 L595.2,205.4 L595.7,205.4 L596.2,205.5 L596.7,205.5 L597.2,205.6 L597.7,205.6 L598.2,205.7 L598.7,205.7 L599.2,205.8 L599.7,205.8 L600.2,205.9 L600.7,205.9 L601.2,205.9 L601.7,206.0 L602.2,206.0 L602.7,206.0 L603.2,206.1 L603.7,206.1 L604.2,206.1 L604.7,206.1 L605.2,206.2 L605.7,206.2 L606.2,206.2 L606.7,206.2 L607.2,206.2 L607.7,206.2 L608.2,206.3 L608.7,206.3 L609.2,206.3 L609.7,206.3 L610.2,206.3 L610.7,206.3 L611.2,206.3 L611.7,206.3 L612.2,206.3 L612.7,206.3 L613.2,206.4 L613.7,206.4 L614.2,206.4 L614.7,206.4 L615.2,206.4 L615.7,206.4 L616.2,206.4 L616.7,206.4 L617.2,206.4 L617.7,206.4 L618.2,206.4 L618.7,206.4 L619.2,206.4 L619.7,206.4 L620.2,206.4 L620.7,206.4 L621.2,206.4 L621.7,206.4 L622.2,206.4 L622.7,206.4 L623.2,206.4 L623.7,206.4 L624.2,206.4 L624.7,206.4 L625.2,206.4 L625.7,206.4 L626.2,206.4 L626.7,206.4 L627.2,206.4 L627.7,206.4 L628.2,206.4 L628.7,206.4 L629.2,206.4 L629.7,206.4 L630.2,206.4 L630.7,206.4 L631.2,206.4 L631.7,206.4 L632.2,206.4 L632.7,206.4 L633.2,206.4 L633.7,206.4 L634.2,206.4 L634.7,206.4 L635.2,206.4 L635.7,206.4 L636.2,206.4 L636.7,206.4 L637.2,206.4 L637.7,206.4 L638.2,206.4 L638.7,206.4 L639.2,206.4 L639.7,206.4 L640.2,206.4 L640.7,206.4 L641.2,206.4 L641.7,206.4 L642.2,206.4 L642.7,206.4 L643.2,206.4 L643.7,206.4 L644.2,206.4 L644.7,206.4 L645.2,206.4 L645.7,206.4 L646.2,206.4 L646.7,206.4 L647.2,206.4 L647.7,206.4 L648.2,206.4 L648.7,206.4" stroke="#0000ee"/>
</g>
<rect x="502" y="25" width="146" height="46" fill="#fff"/>
<line x1="506.25" y1="31.75" x2="523.75" y2="31.75" stroke="#00c800" stroke-width="1.5" stroke-dasharray="4,3.5"/>
<text x="528.75" y="35.45" font-size="10.5" textLength="117" lengthAdjust="spacingAndGlyphs" font-family="Liberation Sans, sans-serif">S157W-A/A + KaiB, 2 min.</text>
<line x1="506.25" y1="43" x2="523.75" y2="43" stroke="#00c800" stroke-width="1.5"/>
<text x="528.75" y="46.7" font-size="10.5" textLength="109.5" lengthAdjust="spacingAndGlyphs" font-family="Liberation Sans, sans-serif">S157W-A/A + KaiB, 18 h</text>
<line x1="506.25" y1="54.2" x2="523.75" y2="54.2" stroke="#0000ee" stroke-width="1.5" stroke-dasharray="4,3.5"/>
<text x="528.75" y="57.900000000000006" font-size="10.5" textLength="117" lengthAdjust="spacingAndGlyphs" font-family="Liberation Sans, sans-serif">S157W-D/E + KaiB, 2 min.</text>
<line x1="506.25" y1="65.5" x2="523.75" y2="65.5" stroke="#0000ee" stroke-width="1.5"/>
<text x="528.75" y="69.2" font-size="10.5" textLength="109.5" lengthAdjust="spacingAndGlyphs" font-family="Liberation Sans, sans-serif">S157W-D/E + KaiB, 18 h</text>
<rect x="386.2" y="21.25" width="262.50000000000006" height="196.55" fill="none" stroke="#000" stroke-width="1.6"/>
<line x1="378.4" y1="21.25" x2="386.2" y2="21.25" stroke="#000" stroke-width="1.45"/>
<line x1="378.4" y1="52.75" x2="386.2" y2="52.75" stroke="#000" stroke-width="1.45"/>
<line x1="378.4" y1="84.25" x2="386.2" y2="84.25" stroke="#000" stroke-width="1.45"/>
<line x1="378.4" y1="115.75" x2="386.2" y2="115.75" stroke="#000" stroke-width="1.45"/>
<line x1="378.4" y1="147.25" x2="386.2" y2="147.25" stroke="#000" stroke-width="1.45"/>
<line x1="378.4" y1="178.75" x2="386.2" y2="178.75" stroke="#000" stroke-width="1.45"/>
<line x1="378.4" y1="210.25" x2="386.2" y2="210.25" stroke="#000" stroke-width="1.45"/>
<line x1="386.20" y1="217.8" x2="386.20" y2="225.4" stroke="#000" stroke-width="1.4"/>
<text x="386.20" y="241.3" font-size="12" text-anchor="middle" font-family="Liberation Sans, sans-serif">9</text>
<line x1="451.82" y1="217.8" x2="451.82" y2="225.4" stroke="#000" stroke-width="1.4"/>
<text x="451.82" y="241.3" font-size="12" text-anchor="middle" font-family="Liberation Sans, sans-serif">11</text>
<line x1="517.45" y1="217.8" x2="517.45" y2="225.4" stroke="#000" stroke-width="1.4"/>
<text x="517.45" y="241.3" font-size="12" text-anchor="middle" font-family="Liberation Sans, sans-serif">13</text>
<line x1="583.08" y1="217.8" x2="583.08" y2="225.4" stroke="#000" stroke-width="1.4"/>
<text x="583.08" y="241.3" font-size="12" text-anchor="middle" font-family="Liberation Sans, sans-serif">15</text>
<line x1="648.70" y1="217.8" x2="648.70" y2="225.4" stroke="#000" stroke-width="1.4"/>
<text x="648.70" y="241.3" font-size="12" text-anchor="middle" font-family="Liberation Sans, sans-serif">17</text>
<line x1="419.01" y1="217.8" x2="419.01" y2="222.60000000000002" stroke="#000" stroke-width="1.3"/>
<line x1="484.64" y1="217.8" x2="484.64" y2="222.60000000000002" stroke="#000" stroke-width="1.3"/>
<line x1="550.26" y1="217.8" x2="550.26" y2="222.60000000000002" stroke="#000" stroke-width="1.3"/>
<line x1="615.89" y1="217.8" x2="615.89" y2="222.60000000000002" stroke="#000" stroke-width="1.3"/>
<text x="517.5" y="260.4" font-size="14.3" text-anchor="middle" font-family="Liberation Sans, sans-serif">Elution volume (mL)</text>
<text transform="translate(352.9,169) rotate(-90)" font-size="14" font-family="Liberation Sans, sans-serif">Abs<tspan font-size="10" dy="3">280nm</tspan><tspan dy="-3"> (mAU)</tspan></text>
<text x="338" y="14.3" font-size="17.5" font-weight="bold" font-family="Liberation Sans, sans-serif">(b)</text>
<line x1="390.5" y1="121" x2="390.5" y2="142" stroke="#000" stroke-width="1.5"/>
<path d="M390.5,116.2 L393.4,125.5 L387.6,125.5 Z M390.5,147.3 L393.4,138 L387.6,138 Z" fill="#000"/>
<text x="394" y="137" font-size="12" font-family="Liberation Sans, sans-serif">20 mAU</text>
<text x="475.5" y="31" font-size="11.8" text-anchor="middle" font-family="Liberation Sans, sans-serif">c</text>
<text x="458" y="48.3" font-size="11.8" text-anchor="middle" font-family="Liberation Sans, sans-serif">g</text>
<text x="491" y="35.2" font-size="11.8" text-anchor="middle" font-family="Liberation Sans, sans-serif">a</text>
<text x="495.7" y="68.3" font-size="11.8" text-anchor="middle" font-family="Liberation Sans, sans-serif">e</text>
<text x="612.4" y="155.2" font-size="11.8" text-anchor="middle" font-family="Liberation Sans, sans-serif">d</text>
<text x="612.7" y="175.4" font-size="11.8" text-anchor="middle" font-family="Liberation Sans, sans-serif">b</text>
<text x="612.4" y="192.5" font-size="11.8" text-anchor="middle" font-family="Liberation Sans, sans-serif">f</text>
<line x1="488.6" y1="38.5" x2="482.4" y2="46.2" stroke="#000" stroke-width="1.4"/><path d="M477.2,52.6 L480.2,44.5 L484.5,48.0 Z" fill="#000"/>
<line x1="490.9" y1="69.3" x2="484.1" y2="77.4" stroke="#000" stroke-width="1.4"/><path d="M478.8,83.7 L481.9,75.6 L486.2,79.2 Z" fill="#000"/>
</g>
<g id="pc">
<defs>
<linearGradient id="gelbg" x1="0" y1="0" x2="0" y2="1">
<stop offset="0" stop-color="#9b9b9b"/><stop offset="0.05" stop-color="#a4a4a4"/><stop offset="0.17" stop-color="#aeaeae"/><stop offset="0.226" stop-color="#b9b9b9"/><stop offset="0.295" stop-color="#c3c3c3"/><stop offset="0.388" stop-color="#cfcfcf"/><stop offset="0.48" stop-color="#d7d7d7"/><stop offset="0.62" stop-color="#dfdfdf"/><stop offset="0.76" stop-color="#e4e4e4"/><stop offset="0.9" stop-color="#e6e6e6"/><stop offset="1" stop-color="#dedede"/>
</linearGradient>
<linearGradient id="gelh" x1="0" y1="0" x2="1" y2="0">
<stop offset="0" stop-color="#000" stop-opacity="0"/><stop offset="0.45" stop-color="#000" stop-opacity="0"/><stop offset="1" stop-color="#000" stop-opacity="0.035"/>
</linearGradient>
<linearGradient id="bandg" x1="0" y1="0" x2="0" y2="1">
<stop offset="0" stop-color="#868686"/><stop offset="0.45" stop-color="#707070"/><stop offset="0.8" stop-color="#454545"/><stop offset="1" stop-color="#3a3a3a"/>
</linearGradient>
<linearGradient id="smearg" x1="0" y1="0" x2="0" y2="1">
<stop offset="0" stop-color="#bababa"/><stop offset="0.3" stop-color="#b0b0b0"/><stop offset="1" stop-color="#a4a4a4"/>
</linearGradient>
<linearGradient id="fadeg" x1="0" y1="0" x2="0" y2="1"><stop offset="0" stop-color="#fff"/><stop offset="0.5" stop-color="#fff"/><stop offset="1" stop-color="#000"/></linearGradient>
<mask id="fade" maskUnits="userSpaceOnUse" x="50" y="360" width="280" height="60"><rect x="50" y="366" width="280" height="46" fill="url(#fadeg)"/></mask>
<filter id="bl07" x="-5%" y="-5%" width="110%" height="110%"><feGaussianBlur stdDeviation="0.75"/></filter>
<filter id="bl0" x="-20%" y="-100%" width="140%" height="300%"><feGaussianBlur stdDeviation="0.5"/></filter>
<filter id="bl1" x="-20%" y="-100%" width="140%" height="300%"><feGaussianBlur stdDeviation="0.9"/></filter>
<filter id="bl2" x="-20%" y="-100%" width="140%" height="300%"><feGaussianBlur stdDeviation="1.5"/></filter>
<filter id="bl3" x="-50%" y="-50%" width="200%" height="200%"><feGaussianBlur stdDeviation="4"/></filter>
<filter id="grain" x="0" y="0" width="100%" height="100%"><feTurbulence type="fractalNoise" baseFrequency="0.75" numOctaves="2" seed="7"/><feColorMatrix type="matrix" values="0 0 0 0 0  0 0 0 0 0  0 0 0 0 0  1.6 0 0 0 -0.62"/></filter>
<filter id="grainw" x="0" y="0" width="100%" height="100%"><feTurbulence type="fractalNoise" baseFrequency="0.6" numOctaves="2" seed="11"/><feColorMatrix type="matrix" values="0 0 0 0 1  0 0 0 0 1  0 0 0 0 1  1.6 0 0 0 -0.62"/></filter>
<filter id="blotch" x="0" y="0" width="100%" height="100%"><feTurbulence type="fractalNoise" baseFrequency="0.035 0.06" numOctaves="2" seed="5"/><feColorMatrix type="matrix" values="0 0 0 0 0  0 0 0 0 0  0 0 0 0 0  2.2 0 0 0 -0.95"/></filter>
</defs>
<rect x="54.5" y="366.3" width="269.1" height="216.7" fill="url(#gelbg)"/>
<clipPath id="cg"><rect x="54.5" y="366.3" width="269.1" height="216.7"/></clipPath>
<g clip-path="url(#cg)">
<rect x="54.5" y="366.3" width="269.1" height="46" filter="url(#blotch)" opacity="0.13" mask="url(#fade)"/>
<rect x="54.5" y="366.3" width="269.1" height="216.7" fill="url(#gelh)"/>
<rect x="54.5" y="366.3" width="269.1" height="216.7" filter="url(#grain)" opacity="0.05"/>
<rect x="54.5" y="366.3" width="269.1" height="216.7" filter="url(#grainw)" opacity="0.06"/>
<rect x="64" y="372" width="20" height="44" fill="#d0d0d0" opacity="0.55" filter="url(#bl3)"/>
<path d="M67,425 L83,425 L79,580 L61,580 Z" fill="#b4b4b4" opacity="0.6" filter="url(#bl3)"/>
<rect x="70.5" y="379.1" width="13" height="1.4" rx="1" fill="#1c1c1c" filter="url(#bl0)"/>
<rect x="67.8" y="420.1" width="15.5" height="4.2" rx="1" fill="#404040" filter="url(#bl1)"/>
<rect x="66.8" y="442.1" width="16.5" height="6.5" rx="1" fill="#303030" filter="url(#bl2)"/>
<rect x="67.0" y="464.2" width="15" height="4" rx="1" fill="#868686" filter="url(#bl2)"/>
<rect x="64.5" y="479.1" width="17" height="4.6" rx="1" fill="#787878" filter="url(#bl2)"/>
<rect x="64.0" y="495.0" width="17" height="4.6" rx="1" fill="#8c8c8c" filter="url(#bl2)"/>
<rect x="63.2" y="510.5" width="17.5" height="7" rx="1" fill="#484848" filter="url(#bl2)"/>
<rect x="62.5" y="525.5" width="17" height="4" rx="1" fill="#7c7c7c" filter="url(#bl2)"/>
<rect x="60.5" y="550.0" width="17" height="4.6" rx="1" fill="#767676" filter="url(#bl2)"/>
<rect x="58.5" y="571.5" width="18" height="6" rx="1" fill="#a0a0a0" filter="url(#bl2)"/>
<rect x="96.0" y="449.8" width="21.7" height="7" fill="#e6e6e6" opacity="0.15" filter="url(#bl2)"/>
<path d="M91.7,466.7 L98.0,455.8 L115.7,455.8 L115.2,466.7 Z" fill="url(#smearg)" filter="url(#bl07)"/>
<path d="M90.7,464.7 L116.2,464.7 Q118.7,465.2 118.2,469.0 Q117.2,472.6 113.2,472.6 L93.7,472.6 Q89.7,472.6 88.7,469.0 Q88.2,465.2 90.7,464.7 Z" fill="url(#bandg)" filter="url(#bl0)"/>
<rect x="157.8" y="448.6" width="24.0" height="7" fill="#e6e6e6" opacity="0.15" filter="url(#bl2)"/>
<path d="M157.8,463.7 L159.8,454.6 L179.8,454.6 L179.6,463.7 Z" fill="url(#smearg)" filter="url(#bl07)"/>
<path d="M156.8,461.7 L180.6,461.7 Q183.1,462.2 182.6,466.8 Q181.6,470.9 177.6,470.9 L159.8,470.9 Q155.8,470.9 154.8,466.8 Q154.3,462.2 156.8,461.7 Z" fill="url(#bandg)" filter="url(#bl0)"/>
<rect x="222.2" y="447.3" width="23.1" height="7" fill="#e6e6e6" opacity="0.15" filter="url(#bl2)"/>
<path d="M223.0,464.2 L224.2,453.3 L243.3,453.3 L244.0,464.2 Z" fill="url(#smearg)" filter="url(#bl07)"/>
<path d="M222.0,462.2 L245.0,462.2 Q247.5,462.7 247.0,466.7 Q246.0,470.4 242.0,470.4 L225.0,470.4 Q221.0,470.4 220.0,466.7 Q219.5,462.7 222.0,462.2 Z" fill="url(#bandg)" filter="url(#bl0)"/>
<rect x="285.5" y="449.8" width="23.2" height="7" fill="#e6e6e6" opacity="0.15" filter="url(#bl2)"/>
<path d="M286.3,466.7 L287.5,455.8 L306.7,455.8 L309.0,466.7 Z" fill="url(#smearg)" filter="url(#bl07)"/>
<path d="M285.3,464.7 L310.0,464.7 Q312.5,465.2 312.0,469.0 Q311.0,472.6 307.0,472.6 L288.3,472.6 Q284.3,472.6 283.3,469.0 Q282.8,465.2 285.3,464.7 Z" fill="url(#bandg)" filter="url(#bl0)"/>
<g filter="url(#bl07)">
<path d="M118.6,570.6 Q133.4,570.6 148.2,570.6" fill="none" stroke="#929292" stroke-width="4.4" stroke-linecap="round"/>
<path d="M120.6,570.8 Q133.4,570.8 146.2,570.8" fill="none" stroke="#6e6e6e" stroke-width="2.6" stroke-linecap="round"/>
<path d="M185.4,571.6 Q200.8,571.6 216.2,571.6" fill="none" stroke="#929292" stroke-width="4.4" stroke-linecap="round"/>
<path d="M187.4,571.8 Q200.8,571.8 214.2,571.8" fill="none" stroke="#6e6e6e" stroke-width="2.6" stroke-linecap="round"/>
<path d="M253.6,571.8 Q267.7,572.4 281.8,571.8" fill="none" stroke="#929292" stroke-width="4.4" stroke-linecap="round"/>
<path d="M255.6,572.0 Q267.7,572.6 279.8,572.0" fill="none" stroke="#6e6e6e" stroke-width="2.6" stroke-linecap="round"/>
<path d="M286.2,570.6 Q302.9,568.8 319.6,570.6" fill="none" stroke="#929292" stroke-width="4.4" stroke-linecap="round"/>
<path d="M288.2,570.8 Q302.9,569.0 317.6,570.8" fill="none" stroke="#6e6e6e" stroke-width="2.6" stroke-linecap="round"/>
</g>
</g>
<path d="M55,583.6 L55,366.8" fill="none" stroke="#585858" stroke-width="1.6"/>
<path d="M54.2,366.85 L324.1,366.85" fill="none" stroke="#2c2c2c" stroke-width="1.5"/>
<path d="M323.35,366.1 L323.35,583.6" fill="none" stroke="#222" stroke-width="1.6"/>
<path d="M54.2,582.9 L324.1,582.9" fill="none" stroke="#222" stroke-width="1.5"/>
<text x="0.8" y="321.2" font-size="17.7" font-weight="bold" font-family="Liberation Sans, sans-serif">(c)</text>
<text x="12" y="359.8" font-size="11.9" font-weight="bold" font-family="Liberation Sans, sans-serif">kDa</text>
<text x="22" y="383.6" font-size="10.7" font-weight="bold" text-anchor="middle" font-family="Liberation Sans, sans-serif">273</text>
<path d="M53.7,379.8 L43.9,376.2 L43.9,378.7 L42.7,378.7 L42.7,380.9 L43.9,380.9 L43.9,383.4 Z" fill="#000"/>
<text x="22" y="425.6" font-size="10.7" font-weight="bold" text-anchor="middle" font-family="Liberation Sans, sans-serif">114</text>
<path d="M53.7,421.8 L43.9,418.2 L43.9,420.7 L42.7,420.7 L42.7,422.9 L43.9,422.9 L43.9,425.4 Z" fill="#000"/>
<text x="22" y="449.5" font-size="10.7" font-weight="bold" text-anchor="middle" font-family="Liberation Sans, sans-serif">84.7</text>
<path d="M53.7,445.7 L43.9,442.1 L43.9,444.6 L42.7,444.6 L42.7,446.8 L43.9,446.8 L43.9,449.3 Z" fill="#000"/>
<text x="22" y="469.0" font-size="10.7" font-weight="bold" text-anchor="middle" font-family="Liberation Sans, sans-serif">61.6</text>
<path d="M53.7,465.2 L43.9,461.6 L43.9,464.1 L42.7,464.1 L42.7,466.3 L43.9,466.3 L43.9,468.8 Z" fill="#000"/>
<text x="22" y="485.2" font-size="10.7" font-weight="bold" text-anchor="middle" font-family="Liberation Sans, sans-serif">47.3</text>
<path d="M53.7,481.4 L43.9,477.8 L43.9,480.3 L42.7,480.3 L42.7,482.5 L43.9,482.5 L43.9,485.0 Z" fill="#000"/>
<text x="22" y="501.1" font-size="10.7" font-weight="bold" text-anchor="middle" font-family="Liberation Sans, sans-serif">38.9</text>
<path d="M53.7,497.3 L43.9,493.7 L43.9,496.2 L42.7,496.2 L42.7,498.4 L43.9,498.4 L43.9,500.9 Z" fill="#000"/>
<text x="22" y="518.8" font-size="10.7" font-weight="bold" text-anchor="middle" font-family="Liberation Sans, sans-serif">31.3</text>
<path d="M53.7,515.0 L43.9,511.4 L43.9,513.9 L42.7,513.9 L42.7,516.1 L43.9,516.1 L43.9,518.6 Z" fill="#000"/>
<text x="22" y="532.2" font-size="10.7" font-weight="bold" text-anchor="middle" font-family="Liberation Sans, sans-serif">25.7</text>
<path d="M53.7,528.4 L43.9,524.8 L43.9,527.3 L42.7,527.3 L42.7,529.5 L43.9,529.5 L43.9,532.0 Z" fill="#000"/>
<text x="22" y="554.9" font-size="10.7" font-weight="bold" text-anchor="middle" font-family="Liberation Sans, sans-serif">17.4</text>
<path d="M53.7,551.1 L43.9,547.5 L43.9,550.0 L42.7,550.0 L42.7,552.2 L43.9,552.2 L43.9,554.7 Z" fill="#000"/>
<text x="22" y="577.2" font-size="10.7" font-weight="bold" text-anchor="middle" font-family="Liberation Sans, sans-serif">8.6</text>
<path d="M53.7,573.4 L43.9,569.8 L43.9,572.3 L42.7,572.3 L42.7,574.5 L43.9,574.5 L43.9,577.0 Z" fill="#000"/>
<text x="154.4" y="318.2" font-size="11" font-weight="bold" text-anchor="middle" font-family="Liberation Sans, sans-serif">S157W-A/A + KaiB</text>
<text x="270" y="318.2" font-size="11" font-weight="bold" text-anchor="middle" font-family="Liberation Sans, sans-serif">S157W-D/E + KaiB</text>
<rect x="92.5" y="323.9" width="122.7" height="4.5" fill="#000"/>
<rect x="222.8" y="323.9" width="92" height="4.5" fill="#000"/>
<text x="121.1" y="340.9" font-size="12" font-weight="bold" text-anchor="middle" font-family="Liberation Sans, sans-serif">2 min.</text>
<text x="184.1" y="340.9" font-size="12" font-weight="bold" text-anchor="middle" font-family="Liberation Sans, sans-serif">18 h</text>
<text x="251.4" y="340.9" font-size="12" font-weight="bold" text-anchor="middle" font-family="Liberation Sans, sans-serif">2 min.</text>
<text x="298.5" y="340.9" font-size="12" font-weight="bold" text-anchor="middle" font-family="Liberation Sans, sans-serif">18 h</text>
<rect x="89.5" y="345.5" width="26.5" height="4.5" fill="#000"/>
<rect x="121.7" y="345.5" width="26.5" height="4.5" fill="#000"/>
<rect x="155" y="345.5" width="26.1" height="4.5" fill="#000"/>
<rect x="189.1" y="345.5" width="26.1" height="4.5" fill="#000"/>
<rect x="220.9" y="345.5" width="25.8" height="4.5" fill="#000"/>
<rect x="253.1" y="345.5" width="25.8" height="4.5" fill="#000"/>
<rect x="285.7" y="345.5" width="26.1" height="4.5" fill="#000"/>
<text x="103.5" y="361.7" font-size="13" font-weight="bold" text-anchor="middle" font-family="Liberation Sans, sans-serif">a</text>
<text x="134.9" y="361.7" font-size="13" font-weight="bold" text-anchor="middle" font-family="Liberation Sans, sans-serif">b</text>
<text x="167.9" y="361.7" font-size="13" font-weight="bold" text-anchor="middle" font-family="Liberation Sans, sans-serif">c</text>
<text x="203.1" y="361.7" font-size="13" font-weight="bold" text-anchor="middle" font-family="Liberation Sans, sans-serif">d</text>
<text x="234.5" y="361.7" font-size="13" font-weight="bold" text-anchor="middle" font-family="Liberation Sans, sans-serif">e</text>
<text x="264.5" y="361.7" font-size="13" font-weight="bold" text-anchor="middle" font-family="Liberation Sans, sans-serif">f</text>
<text x="298.9" y="361.7" font-size="13" font-weight="bold" text-anchor="middle" font-family="Liberation Sans, sans-serif">g</text>
</g>
<g id="pd">
<line x1="424.60" y1="353.0" x2="424.60" y2="528.8" stroke="#333" stroke-width="1" stroke-dasharray="1,1.45"/>
<line x1="470.05" y1="353.0" x2="470.05" y2="528.8" stroke="#333" stroke-width="1" stroke-dasharray="1,1.45"/>
<line x1="515.50" y1="353.0" x2="515.50" y2="528.8" stroke="#333" stroke-width="1" stroke-dasharray="1,1.45"/>
<line x1="560.95" y1="353.0" x2="560.95" y2="528.8" stroke="#333" stroke-width="1" stroke-dasharray="1,1.45"/>
<line x1="606.40" y1="353.0" x2="606.40" y2="528.8" stroke="#333" stroke-width="1" stroke-dasharray="1,1.45"/>
<circle cx="409.45" cy="370.5" r="3.05" fill="none" stroke="#000" stroke-width="2.1"/>
<circle cx="413.24" cy="369.5" r="3.05" fill="none" stroke="#000" stroke-width="2.1"/>
<circle cx="417.03" cy="368.9" r="3.05" fill="none" stroke="#000" stroke-width="2.1"/>
<circle cx="420.81" cy="370.5" r="3.05" fill="none" stroke="#000" stroke-width="2.1"/>
<circle cx="424.60" cy="369.5" r="3.05" fill="none" stroke="#000" stroke-width="2.1"/>
<circle cx="428.39" cy="368.9" r="3.05" fill="none" stroke="#000" stroke-width="2.1"/>
<circle cx="432.18" cy="375.6" r="3.05" fill="none" stroke="#000" stroke-width="2.1"/>
<circle cx="435.96" cy="381.4" r="3.05" fill="none" stroke="#000" stroke-width="2.1"/>
<circle cx="439.75" cy="392.3" r="3.05" fill="none" stroke="#000" stroke-width="2.1"/>
<circle cx="443.54" cy="399.2" r="3.05" fill="none" stroke="#000" stroke-width="2.1"/>
<circle cx="447.33" cy="408.5" r="3.05" fill="none" stroke="#000" stroke-width="2.1"/>
<circle cx="451.11" cy="416.9" r="3.05" fill="none" stroke="#000" stroke-width="2.1"/>
<circle cx="454.90" cy="425.1" r="3.05" fill="none" stroke="#000" stroke-width="2.1"/>
<circle cx="458.69" cy="431.6" r="3.05" fill="none" stroke="#000" stroke-width="2.1"/>
<circle cx="462.48" cy="438.4" r="3.05" fill="none" stroke="#000" stroke-width="2.1"/>
<circle cx="466.26" cy="444.7" r="3.05" fill="none" stroke="#000" stroke-width="2.1"/>
<circle cx="470.05" cy="450.1" r="3.05" fill="none" stroke="#000" stroke-width="2.1"/>
<circle cx="473.84" cy="455.6" r="3.05" fill="none" stroke="#000" stroke-width="2.1"/>
<circle cx="477.62" cy="460.8" r="3.05" fill="none" stroke="#000" stroke-width="2.1"/>
<circle cx="481.41" cy="465.1" r="3.05" fill="none" stroke="#000" stroke-width="2.1"/>
<circle cx="485.20" cy="468.8" r="3.05" fill="none" stroke="#000" stroke-width="2.1"/>
<circle cx="488.99" cy="472.5" r="3.05" fill="none" stroke="#000" stroke-width="2.1"/>
<circle cx="492.78" cy="475.5" r="3.05" fill="none" stroke="#000" stroke-width="2.1"/>
<circle cx="496.56" cy="478.2" r="3.05" fill="none" stroke="#000" stroke-width="2.1"/>
<circle cx="500.35" cy="481.3" r="3.05" fill="none" stroke="#000" stroke-width="2.1"/>
<circle cx="504.14" cy="482.3" r="3.05" fill="none" stroke="#000" stroke-width="2.1"/>
<circle cx="507.93" cy="485.4" r="3.05" fill="none" stroke="#000" stroke-width="2.1"/>
<circle cx="511.71" cy="488.5" r="3.05" fill="none" stroke="#000" stroke-width="2.1"/>
<circle cx="515.50" cy="487.4" r="3.05" fill="none" stroke="#000" stroke-width="2.1"/>
<circle cx="519.29" cy="490.5" r="3.05" fill="none" stroke="#000" stroke-width="2.1"/>
<circle cx="523.08" cy="489.1" r="3.05" fill="none" stroke="#000" stroke-width="2.1"/>
<circle cx="526.86" cy="491.1" r="3.05" fill="none" stroke="#000" stroke-width="2.1"/>
<circle cx="530.65" cy="493.6" r="3.05" fill="none" stroke="#000" stroke-width="2.1"/>
<circle cx="534.44" cy="494.0" r="3.05" fill="none" stroke="#000" stroke-width="2.1"/>
<circle cx="538.23" cy="495.2" r="3.05" fill="none" stroke="#000" stroke-width="2.1"/>
<circle cx="542.01" cy="494.8" r="3.05" fill="none" stroke="#000" stroke-width="2.1"/>
<circle cx="545.80" cy="495.2" r="3.05" fill="none" stroke="#000" stroke-width="2.1"/>
<circle cx="549.59" cy="495.2" r="3.05" fill="none" stroke="#000" stroke-width="2.1"/>
<circle cx="553.38" cy="496.7" r="3.05" fill="none" stroke="#000" stroke-width="2.1"/>
<circle cx="557.16" cy="499.1" r="3.05" fill="none" stroke="#000" stroke-width="2.1"/>
<circle cx="560.95" cy="495.8" r="3.05" fill="none" stroke="#000" stroke-width="2.1"/>
<circle cx="564.74" cy="495.4" r="3.05" fill="none" stroke="#000" stroke-width="2.1"/>
<circle cx="568.53" cy="495.4" r="3.05" fill="none" stroke="#000" stroke-width="2.1"/>
<circle cx="572.31" cy="495.1" r="3.05" fill="none" stroke="#000" stroke-width="2.1"/>
<circle cx="576.10" cy="497.4" r="3.05" fill="none" stroke="#000" stroke-width="2.1"/>
<circle cx="579.89" cy="495.4" r="3.05" fill="none" stroke="#000" stroke-width="2.1"/>
<circle cx="583.68" cy="496.9" r="3.05" fill="none" stroke="#000" stroke-width="2.1"/>
<circle cx="587.46" cy="495.8" r="3.05" fill="none" stroke="#000" stroke-width="2.1"/>
<circle cx="591.25" cy="494.1" r="3.05" fill="none" stroke="#000" stroke-width="2.1"/>
<circle cx="595.04" cy="494.9" r="3.05" fill="none" stroke="#000" stroke-width="2.1"/>
<circle cx="598.83" cy="497.7" r="3.05" fill="none" stroke="#000" stroke-width="2.1"/>
<circle cx="602.61" cy="498.3" r="3.05" fill="none" stroke="#000" stroke-width="2.1"/>
<circle cx="606.40" cy="495.4" r="3.05" fill="none" stroke="#000" stroke-width="2.1"/>
<circle cx="610.19" cy="496.5" r="3.05" fill="none" stroke="#000" stroke-width="2.1"/>
<circle cx="613.98" cy="496.2" r="3.05" fill="none" stroke="#000" stroke-width="2.1"/>
<circle cx="617.76" cy="495.1" r="3.05" fill="none" stroke="#000" stroke-width="2.1"/>
<circle cx="621.55" cy="497.1" r="3.05" fill="none" stroke="#000" stroke-width="2.1"/>
<circle cx="625.34" cy="495.1" r="3.05" fill="none" stroke="#000" stroke-width="2.1"/>
<circle cx="629.12" cy="496.5" r="3.05" fill="none" stroke="#000" stroke-width="2.1"/>
<circle cx="632.91" cy="495.4" r="3.05" fill="none" stroke="#000" stroke-width="2.1"/>
<circle cx="636.70" cy="495.1" r="3.05" fill="none" stroke="#000" stroke-width="2.1"/>
<circle cx="640.49" cy="494.5" r="3.05" fill="none" stroke="#000" stroke-width="2.1"/>
<circle cx="644.28" cy="495.1" r="3.05" fill="none" stroke="#000" stroke-width="2.1"/>
<circle cx="648.06" cy="496.5" r="3.05" fill="none" stroke="#000" stroke-width="2.1"/>
<circle cx="651.85" cy="495.5" r="3.05" fill="none" stroke="#000" stroke-width="2.1"/>
<rect x="409.6" y="353.0" width="242.39999999999998" height="175.79999999999995" fill="none" stroke="#000" stroke-width="1.5"/>
<line x1="401.6" y1="528.80" x2="409.6" y2="528.80" stroke="#000" stroke-width="1.3"/>
<text x="397.1" y="533.20" font-size="12.3" text-anchor="end" font-family="Liberation Sans, sans-serif">27</text>
<line x1="401.6" y1="499.50" x2="409.6" y2="499.50" stroke="#000" stroke-width="1.3"/>
<text x="397.1" y="503.90" font-size="12.3" text-anchor="end" font-family="Liberation Sans, sans-serif">28</text>
<line x1="401.6" y1="470.20" x2="409.6" y2="470.20" stroke="#000" stroke-width="1.3"/>
<text x="397.1" y="474.60" font-size="12.3" text-anchor="end" font-family="Liberation Sans, sans-serif">29</text>
<line x1="401.6" y1="440.90" x2="409.6" y2="440.90" stroke="#000" stroke-width="1.3"/>
<text x="397.1" y="445.30" font-size="12.3" text-anchor="end" font-family="Liberation Sans, sans-serif">30</text>
<line x1="401.6" y1="411.60" x2="409.6" y2="411.60" stroke="#000" stroke-width="1.3"/>
<text x="397.1" y="416.00" font-size="12.3" text-anchor="end" font-family="Liberation Sans, sans-serif">31</text>
<line x1="401.6" y1="382.30" x2="409.6" y2="382.30" stroke="#000" stroke-width="1.3"/>
<text x="397.1" y="386.70" font-size="12.3" text-anchor="end" font-family="Liberation Sans, sans-serif">32</text>
<line x1="401.6" y1="353.00" x2="409.6" y2="353.00" stroke="#000" stroke-width="1.3"/>
<text x="397.1" y="357.40" font-size="12.3" text-anchor="end" font-family="Liberation Sans, sans-serif">33</text>
<line x1="424.60" y1="528.8" x2="424.60" y2="537.3" stroke="#000" stroke-width="1.3"/>
<text x="424.60" y="554" font-size="12.3" text-anchor="middle" font-family="Liberation Sans, sans-serif">0</text>
<line x1="470.05" y1="528.8" x2="470.05" y2="537.3" stroke="#000" stroke-width="1.3"/>
<text x="470.05" y="554" font-size="12.3" text-anchor="middle" font-family="Liberation Sans, sans-serif">3</text>
<line x1="515.50" y1="528.8" x2="515.50" y2="537.3" stroke="#000" stroke-width="1.3"/>
<text x="515.50" y="554" font-size="12.3" text-anchor="middle" font-family="Liberation Sans, sans-serif">6</text>
<line x1="560.95" y1="528.8" x2="560.95" y2="537.3" stroke="#000" stroke-width="1.3"/>
<text x="560.95" y="554" font-size="12.3" text-anchor="middle" font-family="Liberation Sans, sans-serif">9</text>
<line x1="606.40" y1="528.8" x2="606.40" y2="537.3" stroke="#000" stroke-width="1.3"/>
<text x="606.40" y="554" font-size="12.3" text-anchor="middle" font-family="Liberation Sans, sans-serif">12</text>
<line x1="651.85" y1="528.8" x2="651.85" y2="537.3" stroke="#000" stroke-width="1.3"/>
<text x="651.85" y="554" font-size="12.3" text-anchor="middle" font-family="Liberation Sans, sans-serif">15</text>
<text x="530" y="577" font-size="15.3" text-anchor="middle" font-family="Liberation Sans, sans-serif">Time after adding KaiB (h)</text>
<text transform="translate(359.7,474) rotate(-90)" font-size="15" font-family="Liberation Sans, sans-serif"><tspan font-style="italic">FI</tspan><tspan font-style="italic" font-size="10.7" dy="3">app</tspan><tspan dy="-3"> (a.u.)</tspan></text>
<text x="355.3" y="320.8" font-size="17.4" font-weight="bold" font-family="Liberation Sans, sans-serif">(d)</text>
</g>
</svg>
</body></html>
